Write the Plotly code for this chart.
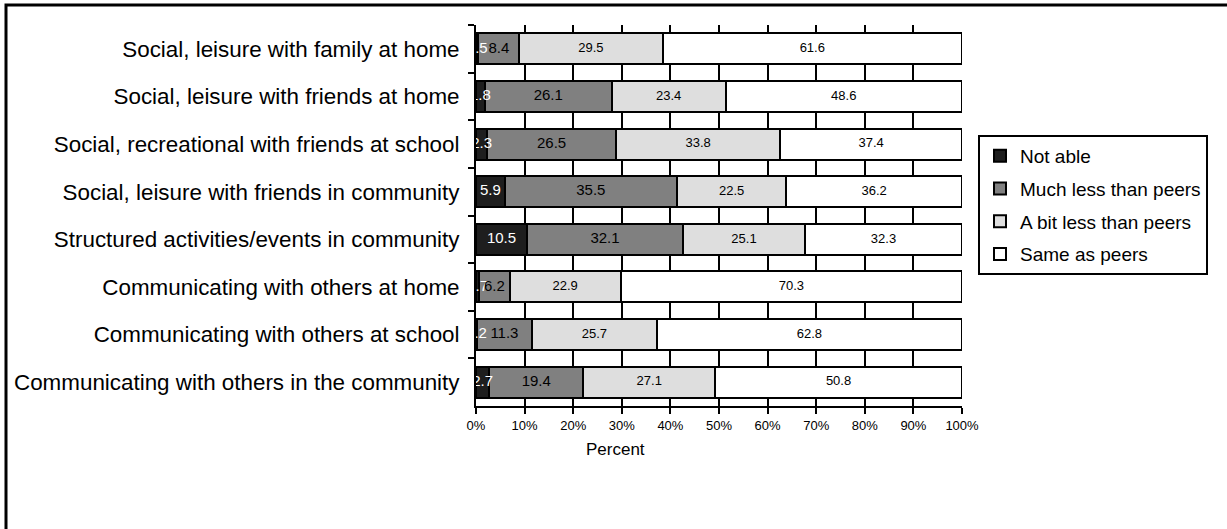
import plotly.graph_objects as go

categories = [
    "Social, leisure with family at home",
    "Social, leisure with friends at home",
    "Social, recreational with friends at school",
    "Social, leisure with friends in community",
    "Structured activities/events in community",
    "Communicating with others at home",
    "Communicating with others at school",
    "Communicating with others in the community",
]
not_able = [0.5, 1.8, 2.3, 5.9, 10.5, 0.7, 0.2, 2.7]
much_less = [8.4, 26.1, 26.5, 35.5, 32.1, 6.2, 11.3, 19.4]
bit_less = [29.5, 23.4, 33.8, 22.5, 25.1, 22.9, 25.7, 27.1]
same = [61.6, 48.6, 37.4, 36.2, 32.3, 70.3, 62.8, 50.8]

series = [
    ("Not able", not_able, "#1e1e1e", "white", 15),
    ("Much less than peers", much_less, "#808080", "black", 15),
    ("A bit less than peers", bit_less, "#dedede", "black", 13),
    ("Same as peers", same, "#ffffff", "black", 13),
]

# 100% stacked: normalise each row to its total
n = len(categories)
totals = [sum(s[1][i] for s in series) for i in range(n)]

FONT = "Liberation Sans, Arial, sans-serif"

fig = go.Figure()
starts = [0.0] * n
label_traces = []
for name, vals, col, tcol, tsize in series:
    widths = [v / t * 100 for v, t in zip(vals, totals)]
    fig.add_trace(go.Bar(
        y=categories, x=widths,
        name=name, orientation="h", legendgroup=name,
        marker=dict(color=col, line=dict(color="black", width=2)),
        textposition="none", hoverinfo="skip",
    ))
    centers = [s + w / 2 for s, w in zip(starts, widths)]
    label_traces.append(go.Scatter(
        x=centers, y=categories, mode="text",
        text=[f"{v:g}" for v in vals],
        textposition="middle center",
        textfont=dict(color=tcol, size=tsize, family=FONT),
        showlegend=False, cliponaxis=False, hoverinfo="skip",
    ))
    starts = [s + w for s, w in zip(starts, widths)]

for tr in label_traces:
    fig.add_trace(tr)

W, H = 1227, 529
L, R, T, B = 476, 962, 25, 406
pw, ph = R - L, B - T

def px_x(p):
    return (p - L) / pw

def px_y(p):
    return (B - p) / ph

fig.update_layout(
    width=W, height=H,
    margin=dict(l=L, r=W - R, t=T, b=H - B, pad=0, autoexpand=False),
    barmode="stack", bargap=0.35,
    plot_bgcolor="white", paper_bgcolor="white",
    font=dict(family=FONT, color="black"),
    showlegend=True,
    legend=dict(
        x=px_x(978), y=px_y(135), xanchor="left", yanchor="top",
        bordercolor="black", borderwidth=2, traceorder="grouped",
        font=dict(size=19, family=FONT),
        tracegroupgap=5, itemwidth=30,
    ),
    xaxis=dict(
        range=[0, 100], dtick=10, ticksuffix="%",
        showgrid=True, gridcolor="black", gridwidth=2,
        showline=True, linecolor="black", linewidth=2,
        ticks="outside", ticklen=6, tickwidth=2, tickcolor="black",
        tickfont=dict(size=13, family=FONT),
        zeroline=False, automargin=False,
    ),
    yaxis=dict(
        autorange="reversed",
        showline=True, linecolor="black", linewidth=2,
        ticks="outside", ticklen=6, tickwidth=2, tickcolor="black",
        tickson="boundaries",
        tickfont=dict(size=22.4, family=FONT),
        ticklabelstandoff=10,
        showgrid=False, automargin=False,
    ),
    annotations=[dict(
        text="Percent", xref="paper", yref="paper",
        x=px_x(615), y=px_y(449), xanchor="center", yanchor="middle",
        showarrow=False, font=dict(size=17, family=FONT),
    )],
    shapes=[dict(
        type="rect", xref="paper", yref="paper",
        x0=px_x(6), x1=px_x(1245), y0=px_y(545), y1=px_y(5),
        line=dict(color="black", width=3), fillcolor="rgba(0,0,0,0)",
        layer="above",
    )],
)

fig.write_html("out.html")
